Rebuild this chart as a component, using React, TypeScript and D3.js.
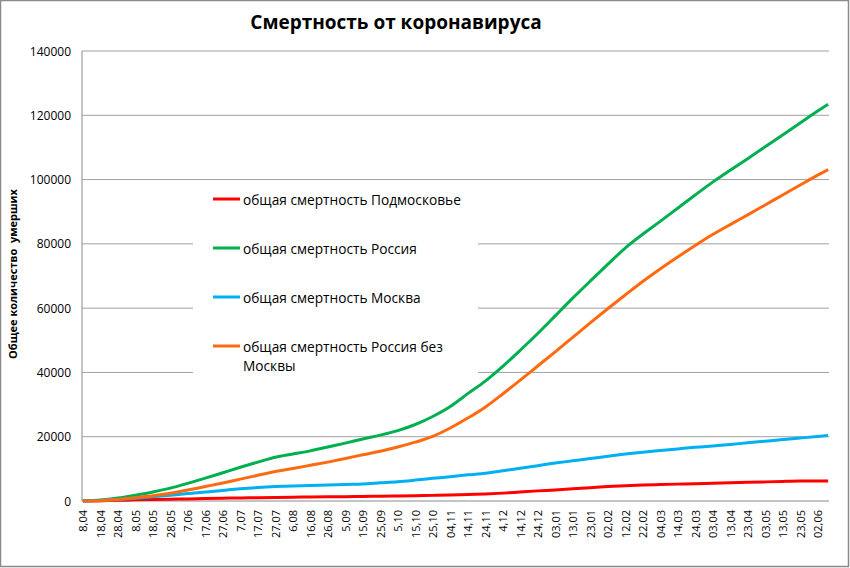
import React from "react";
import * as d3 from "d3";

const W = 850;
const H = 568;

const tickLabels = ['8,04','18,04','28,04','8,05','18,05','28,05','7,06','17,06','27,06','7,07','17,07','27,07','6,08','16,08','26,08','5,09','15,09','25,09','5,10','15,10','25,10','04,11','14,11','24,11','4,12','14,12','24,12','03,01','13,01','23,01','02,02','12,02','22,02','04,03','14,03','24,03','03,04','13,04','23,04','03,05','13,05','23,05','02,06'];
const tickDays = [0,10,20,30,40,50,60,70,80,90,100,110,120,130,140,150,160,170,180,190,200,210,220,230,240,250,260,270,280,290,300,310,320,330,340,350,360,370,380,390,400,410,420];
const totalDays = 427;

const sampleDays = [0,10,20,30,40,50,60,70,80,90,100,110,120,130,140,150,160,170,180,190,200,210,220,230,240,250,260,270,280,290,300,310,320,330,340,350,360,370,380,390,400,410,420,426];

const podmoskovie = [0,50,200,350,450,550,650,750,850,950,1000,1100,1200,1250,1300,1350,1400,1500,1550,1650,1750,1850,2050,2200,2450,2800,3150,3450,3800,4150,4500,4750,4950,5100,5250,5350,5500,5650,5800,5950,6100,6200,6200,6250];
const russia = [60,300,900,1800,2800,4000,5500,7100,8800,10500,12100,13600,14600,15600,16800,18000,19300,20500,21900,23800,26300,29400,33400,37300,41900,46900,52100,57600,63100,68400,73600,78700,83000,87000,91100,95200,99200,102900,106500,110200,113900,117600,121300,123400];
const moscow = [20,150,450,850,1300,1800,2300,2800,3300,3800,4200,4500,4700,4800,4950,5150,5300,5650,6000,6500,7050,7550,8150,8650,9400,10200,11000,11800,12500,13200,13900,14600,15200,15700,16200,16700,17100,17600,18100,18600,19100,19600,20100,20400];
const russiaNoMoscow = [0,80,500,1000,1600,2400,3400,4500,5600,6800,8000,9200,10100,11100,12100,13200,14400,15500,16800,18300,20100,22700,25800,29200,33300,37600,42000,46400,50900,55400,59800,64100,68300,72200,75900,79500,82900,86000,89000,92100,95200,98300,101400,103100];

const yTicks = [0,20000,40000,60000,80000,100000,120000,140000];

const seriesNames = ['общая смертность Подмосковье','общая смертность Россия','общая смертность Москва','общая смертность Россия без'];
const seriesNames2 = ['','','','Москвы'];
const seriesColors = ['#FF0000','#00B050','#00B0F0','#FF6A10'];
const seriesData = [podmoskovie, russia, moscow, russiaNoMoscow];

const FONT = "'Open Sans', 'Noto Sans', 'DejaVu Sans', sans-serif";

export default function App() {
  const plotL = 82, plotR = 829, plotT = 51, plotB = 501;
  const x = d3.scaleLinear().domain([-0.5, totalDays - 0.5]).range([plotL, plotR]);
  const y = d3.scaleLinear().domain([0, 140000]).range([plotB, plotT]);

  const line = d3.line<number>()
    .x((_, i) => x(sampleDays[i]))
    .y((d) => y(d))
    .curve(d3.curveMonotoneX);

  const legX = 213, legY0 = 199, legStep = 49;

  return (
    <svg width={W} height={H} style={{ position: 'absolute', left: 0, top: 0, background: '#fff' }} fontFamily={FONT}>
      <rect x={0.5} y={0.5} width={W - 2} height={H - 2} fill="#fff" stroke="#8a8a8a" strokeWidth={1.5} />
      <text x={396} y={29} textAnchor="middle" fontSize={19} fontWeight="bold" fill="#000">Смертность от коронавируса</text>

      {yTicks.map((t) => (
        <g key={t}>
          {t > 0 && <line x1={plotL} x2={plotR} y1={y(t)} y2={y(t)} stroke="#a0a0a0" strokeWidth={1} />}
          <text x={71} y={y(t)} textAnchor="end" dominantBaseline="central" fontSize={12} fill="#000">{t}</text>
        </g>
      ))}
      <line x1={plotL} x2={plotL} y1={plotT} y2={plotB} stroke="#8a8a8a" strokeWidth={1} />
      <line x1={plotL} x2={plotR} y1={plotB} y2={plotB} stroke="#8a8a8a" strokeWidth={1} />

      <text transform={`translate(12.5,274) rotate(-90)`} textAnchor="middle" dominantBaseline="central" fontSize={11} fontWeight="bold" fill="#000" style={{ whiteSpace: 'pre' }}>{'Общее количество  умерших'}</text>

      {tickLabels.map((lab, i) => (
        <text key={i} transform={`translate(${x(tickDays[i])},510) rotate(-90)`} textAnchor="end" dominantBaseline="central" fontSize={11} fill="#000">{lab}</text>
      ))}

      <rect x={193} y={183} width={285} height={197} fill="#fff" />

      {seriesData.map((s, i) => (
        <path key={i} d={line(s) || ''} fill="none" stroke={seriesColors[i]} strokeWidth={3} strokeLinejoin="round" />
      ))}

      {seriesNames.map((n, i) => (
        <g key={n}>
          <line x1={legX} x2={legX + 27} y1={legY0 + i * legStep} y2={legY0 + i * legStep} stroke={seriesColors[i]} strokeWidth={3} />
          <text x={legX + 30} y={legY0 + i * legStep} dominantBaseline="central" fontSize={13.7} fill="#000">{n}</text>
          {seriesNames2[i] && (
            <text x={legX + 30} y={legY0 + i * legStep + 19} dominantBaseline="central" fontSize={13.7} fill="#000">{seriesNames2[i]}</text>
          )}
        </g>
      ))}
    </svg>
  );
}
